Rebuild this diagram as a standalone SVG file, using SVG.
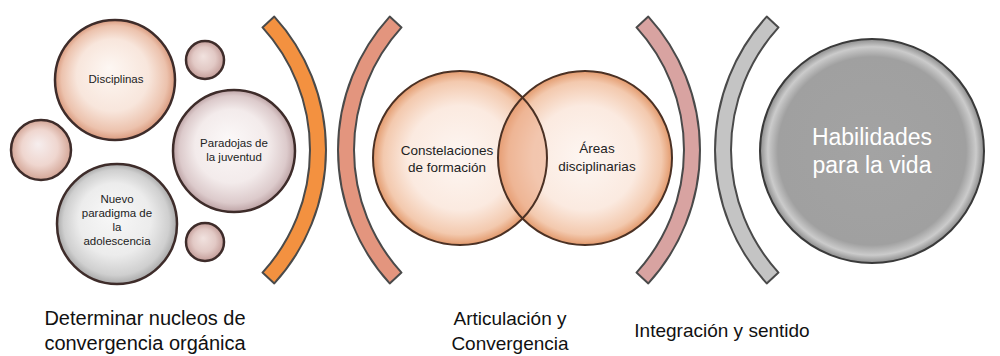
<svg xmlns="http://www.w3.org/2000/svg" width="1000" height="356" viewBox="0 0 1000 356">
<defs>
  <radialGradient id="gPeach" cx="50%" cy="50%" r="50%" fx="45%" fy="40%">
    <stop offset="0" stop-color="#fdf7f3"/>
    <stop offset="0.6" stop-color="#f8e6dc"/>
    <stop offset="0.88" stop-color="#ecc2ad"/>
    <stop offset="1" stop-color="#d99a7e"/>
  </radialGradient>
  <radialGradient id="gPink" cx="50%" cy="50%" r="50%" fx="45%" fy="40%">
    <stop offset="0" stop-color="#fbf8f8"/>
    <stop offset="0.6" stop-color="#f3ebeb"/>
    <stop offset="0.88" stop-color="#dccacb"/>
    <stop offset="1" stop-color="#bda3a5"/>
  </radialGradient>
  <radialGradient id="gSilver" cx="50%" cy="50%" r="50%" fx="45%" fy="40%">
    <stop offset="0" stop-color="#f8f8f8"/>
    <stop offset="0.6" stop-color="#ececec"/>
    <stop offset="0.88" stop-color="#cfcfcf"/>
    <stop offset="1" stop-color="#a9a9a9"/>
  </radialGradient>
  <radialGradient id="gSmall" cx="50%" cy="50%" r="50%" fx="45%" fy="40%">
    <stop offset="0" stop-color="#f1e2df"/>
    <stop offset="0.6" stop-color="#e2c9c5"/>
    <stop offset="1" stop-color="#c39c98"/>
  </radialGradient>
  <radialGradient id="gSmallL" cx="50%" cy="50%" r="50%" fx="45%" fy="40%">
    <stop offset="0" stop-color="#f6eeee"/>
    <stop offset="0.6" stop-color="#efd6cf"/>
    <stop offset="1" stop-color="#d3a596"/>
  </radialGradient>
  <radialGradient id="gVenn" cx="50%" cy="50%" r="50%">
    <stop offset="0" stop-color="#fdf6f2"/>
    <stop offset="0.6" stop-color="#fbeae0"/>
    <stop offset="0.88" stop-color="#f3c9ae"/>
    <stop offset="1" stop-color="#e39a6d"/>
  </radialGradient>
  <radialGradient id="gGray" cx="50%" cy="50%" r="50%">
    <stop offset="0" stop-color="#a3a3a3"/>
    <stop offset="0.84" stop-color="#a0a0a0"/>
    <stop offset="0.93" stop-color="#cbcbcb"/>
    <stop offset="1" stop-color="#8c8c8c"/>
  </radialGradient>
  <clipPath id="clipVennL"><circle cx="460" cy="158" r="87"/></clipPath>
</defs>
<style>
  .bub { stroke: #3e2c2a; stroke-width: 2.5; }
  .band { stroke: #4a4a4a; stroke-width: 2; stroke-linejoin: round; }
  .t12 { font-family: "Liberation Sans", Arial, sans-serif; font-size: 11.5px; fill: #222; text-anchor: middle; }
  .t13 { font-family: "Liberation Sans", Arial, sans-serif; font-size: 13.5px; fill: #222; text-anchor: middle; }
  .tbig { font-family: "Liberation Sans", Arial, sans-serif; font-size: 23px; fill: #ffffff; text-anchor: middle; }
  .tlab { font-family: "Liberation Sans", Arial, sans-serif; font-size: 19px; fill: #111; text-anchor: middle; }
  .venn { stroke: #4b3124; stroke-width: 2; }
</style>
<rect width="1000" height="356" fill="#ffffff"/>

<g id="small-top"><circle class="bub" cx="205" cy="60" r="19" fill="url(#gSmall)"/></g>
<g id="small-left"><circle class="bub" cx="41" cy="150" r="30" fill="url(#gSmallL)"/></g>
<g id="small-bottom"><circle class="bub" cx="205" cy="242" r="19" fill="url(#gSmall)"/></g>

<g id="node-disciplinas">
  <circle class="bub" cx="115" cy="80" r="60" fill="url(#gPeach)"/>
  <text class="t12" x="116" y="83">Disciplinas</text>
</g>
<g id="node-paradojas">
  <circle class="bub" cx="234" cy="151" r="61" fill="url(#gPink)"/>
  <text class="t12" x="234" y="147">Paradojas de</text>
  <text class="t12" x="234" y="161">la juventud</text>
</g>
<g id="node-nuevo">
  <circle class="bub" cx="117" cy="224" r="60" fill="url(#gSilver)"/>
  <text class="t12" x="117" y="203">Nuevo</text>
  <text class="t12" x="117" y="217">paradigma de</text>
  <text class="t12" x="117" y="231">la</text>
  <text class="t12" x="117" y="245">adolescencia</text>
</g>

<g id="arc-1"><path class="band" fill="#f39140" d="M 274.3 16.6 A 198 198 0 0 1 274.3 283.4 L 262.5 272.6 A 182 182 0 0 0 262.5 27.4 Z"/></g>
<g id="arc-2"><path class="band" fill="#e3957e" d="M 389.7 16.6 A 198 198 0 0 0 389.7 283.4 L 401.5 272.6 A 182 182 0 0 1 401.5 27.4 Z"/></g>

<g id="node-constelaciones">
  <circle cx="460" cy="158" r="87" fill="url(#gVenn)"/>
</g>
<g id="node-areas">
  <circle cx="585" cy="158" r="87" fill="url(#gVenn)"/>
  <circle cx="585" cy="158" r="87" fill="#e9a27c" fill-opacity="0.5" clip-path="url(#clipVennL)"/>
  <circle class="venn" cx="460" cy="158" r="87" fill="none"/>
  <circle class="venn" cx="585" cy="158" r="87" fill="none"/>
  <text class="t13" x="447" y="154.5">Constelaciones</text>
  <text class="t13" x="447" y="171.5">de formación</text>
  <text class="t13" x="597" y="153">Áreas</text>
  <text class="t13" x="597" y="171">disciplinarias</text>
</g>

<g id="arc-3"><path class="band" fill="#d8a3a1" d="M 648.3 16.6 A 198 198 0 0 1 648.3 283.4 L 636.5 272.6 A 182 182 0 0 0 636.5 27.4 Z"/></g>
<g id="arc-4"><path class="band" fill="#c4c4c4" d="M 766.7 16.6 A 198 198 0 0 0 766.7 283.4 L 778.5 272.6 A 182 182 0 0 1 778.5 27.4 Z"/></g>

<g id="node-habilidades">
  <circle cx="872" cy="151" r="112" fill="url(#gGray)" stroke="#3a3a3a" stroke-width="2"/>
  <text class="tbig" x="872" y="145">Habilidades</text>
  <text class="tbig" x="872" y="173">para la vida</text>
</g>

<g id="connectors"></g>

<g id="label-1">
  <text class="tlab" x="145" y="325" style="font-size:20px">Determinar nucleos de</text>
  <text class="tlab" x="145" y="350" style="font-size:20px">convergencia orgánica</text>
</g>
<g id="label-2">
  <text class="tlab" x="510" y="325">Articulación y</text>
  <text class="tlab" x="510" y="350">Convergencia</text>
</g>
<g id="label-3">
  <text class="tlab" x="722" y="337">Integración y sentido</text>
</g>
</svg>
